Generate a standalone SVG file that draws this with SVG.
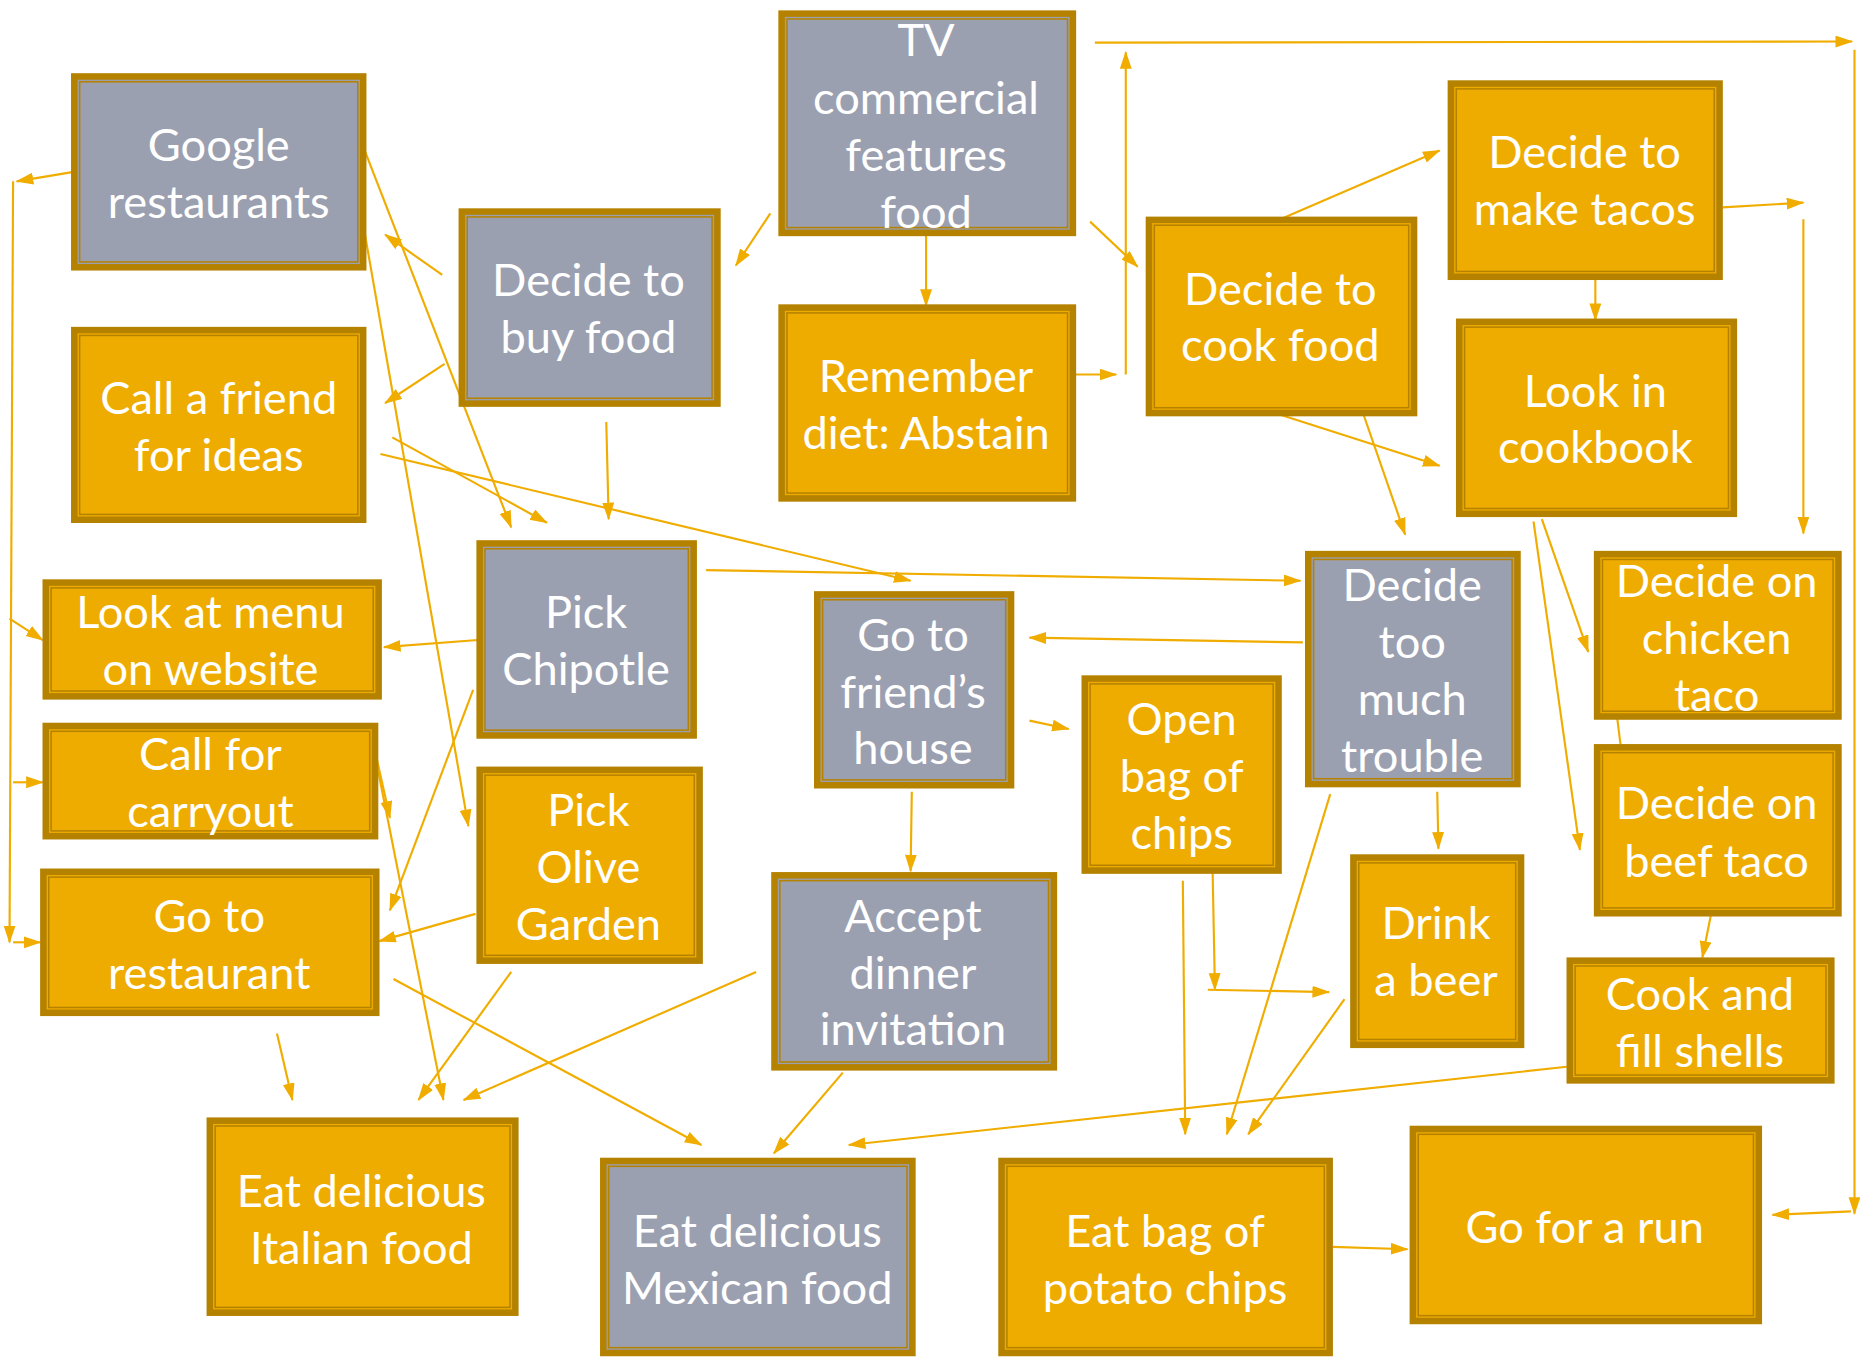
<svg xmlns="http://www.w3.org/2000/svg" width="1864" height="1369" viewBox="0 0 1864 1369">
<style>
.b{stroke:#B58200;stroke-width:5.5}
.o .b{fill:#EFAC00}
.g .b{fill:#9BA0B1}
.in{fill:none;stroke:#B58200;stroke-width:1.3}
text{font-family:"Lato","Open Sans",sans-serif;font-size:38px;fill:#FFFFFF;text-anchor:middle}
#connectors path{fill:none;stroke:#F0AD00;stroke-width:1.8;marker-end:url(#ah)}
#connectors path.n{marker-end:none}
</style>
<defs>
<marker id="ah" markerUnits="userSpaceOnUse" markerWidth="16" markerHeight="11" refX="14" refY="5" orient="auto">
<path d="M0,0 L15,5 L0,10 Z" fill="#F0AD00"/>
</marker>
</defs>
<rect width="1864" height="1369" fill="#FFFFFF"/>
<g transform="scale(1.18878 1.18528)">
<g id="connectors">
<path d="M921,36 L1558,35"/>
<path d="M1560,42 L1560,1024"/>
<path d="M1557,1022 L1491,1025"/>
<path d="M947,316 L947,44"/>
<path d="M905,316 L939,316"/>
<path d="M917,187 L957,225"/>
<path d="M648,180 L619,224"/>
<path d="M779,199 L779,258"/>
<path d="M372,232 L324,198"/>
<path d="M374,307 L324,340"/>
<path d="M62,145 L14,153"/>
<path d="M11,153 L8,795"/>
<path d="M8,522 L36,540"/>
<path d="M11,660 L36,660"/>
<path d="M11,795 L34,795"/>
<path d="M306,125 L430,445"/>
<path d="M306,192 L394,697"/>
<path d="M316,636 L328,690"/>
<path d="M318,650 L373,928"/>
<path d="M330,369 L460,441"/>
<path d="M320,383 L766,490"/>
<path d="M510,356 L512,438"/>
<path d="M594,481 L1094,490"/>
<path d="M402,540 L323,546"/>
<path d="M398,582 L328,768"/>
<path d="M400,771 L319,794"/>
<path d="M430,820 L352,928"/>
<path d="M233,872 L246,928"/>
<path d="M331,826 L590,966"/>
<path d="M636,820 L390,928"/>
<path d="M709,905 L651,973"/>
<path d="M767,668 L766,735"/>
<path d="M866,608 L899,615"/>
<path d="M1096,542 L866,538"/>
<path d="M1209,668 L1210,716"/>
<path d="M1119,670 L1032,957"/>
<path d="M995,743 L997,957"/>
<path d="M1020,733 L1022,835"/>
<path d="M1016,835 L1118,837"/>
<path d="M1131,843 L1050,957"/>
<path d="M1318,900 L714,966"/>
<path d="M1121,1052 L1184,1054"/>
<path d="M1077,185 L1211,127"/>
<path d="M1077,350 L1211,393"/>
<path d="M1145,344 L1182,451"/>
<path d="M1449,175 L1517,171"/>
<path d="M1517,185 L1517,450"/>
<path d="M1342,230 L1342,270"/>
<path d="M1297,438 L1336,550"/>
<path d="M1290,440 L1329,717"/>
<path class="n" d="M1356,570 L1372,700"/>
<path d="M1440,768 L1432,808"/>
</g>

<g id="google" class="g"><rect class="b" x="62.5" y="64.5" width="243" height="161"/><rect class="in" x="67" y="69" width="234" height="152"/><text x="184" y="136">Google</text><text x="184" y="184">restaurants</text></g>
<g id="callfriend" class="o"><rect class="b" x="62.5" y="278.5" width="243" height="160"/><rect class="in" x="67" y="283" width="234" height="151"/><text x="184" y="349">Call a friend</text><text x="184" y="397">for ideas</text></g>
<g id="buyfood" class="g"><rect class="b" x="388.5" y="178.5" width="215" height="162"/><rect class="in" x="393" y="183" width="206" height="153"/><text x="495" y="250">Decide to</text><text x="495" y="298">buy food</text></g>
<g id="tv" class="g"><rect class="b" x="657.5" y="11.5" width="245" height="185"/><rect class="in" x="662" y="16" width="236" height="176"/><text x="779" y="47">TV</text><text x="779" y="96">commercial</text><text x="779" y="144">features</text><text x="779" y="192">food</text></g>
<g id="remember" class="o"><rect class="b" x="657.5" y="259.5" width="245" height="161"/><rect class="in" x="662" y="264" width="236" height="152"/><text x="779" y="331">Remember</text><text x="779" y="379">diet: Abstain</text></g>
<g id="cookfood" class="o"><rect class="b" x="966.5" y="185.5" width="223" height="163"/><rect class="in" x="971" y="190" width="214" height="154"/><text x="1077" y="257">Decide to</text><text x="1077" y="305">cook food</text></g>
<g id="tacos" class="o"><rect class="b" x="1220.5" y="70.5" width="226" height="163"/><rect class="in" x="1225" y="75" width="217" height="154"/><text x="1333" y="142">Decide to</text><text x="1333" y="190">make tacos</text></g>
<g id="cookbook" class="o"><rect class="b" x="1227.5" y="271.5" width="231" height="162"/><rect class="in" x="1232" y="276" width="222" height="153"/><text x="1342" y="343">Look in</text><text x="1342" y="391">cookbook</text></g>
<g id="menu" class="o"><rect class="b" x="38.5" y="491.5" width="280" height="96"/><rect class="in" x="43" y="496" width="271" height="87"/><text x="177" y="530">Look at menu</text><text x="177" y="578">on website</text></g>
<g id="carryout" class="o"><rect class="b" x="38.5" y="612.5" width="277" height="93"/><rect class="in" x="43" y="617" width="268" height="84"/><text x="177" y="650">Call for</text><text x="177" y="698">carryout</text></g>
<g id="gorest" class="o"><rect class="b" x="36.5" y="735.5" width="280" height="119"/><rect class="in" x="41" y="740" width="271" height="110"/><text x="176" y="786">Go to</text><text x="176" y="834">restaurant</text></g>
<g id="chipotle" class="g"><rect class="b" x="403.5" y="458.5" width="180" height="162"/><rect class="in" x="408" y="463" width="171" height="153"/><text x="493" y="530">Pick</text><text x="493" y="578">Chipotle</text></g>
<g id="olive" class="o"><rect class="b" x="403.5" y="649.5" width="185" height="161"/><rect class="in" x="408" y="654" width="176" height="152"/><text x="495" y="697">Pick</text><text x="495" y="745">Olive</text><text x="495" y="793">Garden</text></g>
<g id="friendhouse" class="g"><rect class="b" x="687.5" y="501.5" width="163" height="161"/><rect class="in" x="692" y="506" width="154" height="152"/><text x="768" y="549">Go to</text><text x="768" y="597">friend’s</text><text x="768" y="645">house</text></g>
<g id="accept" class="g"><rect class="b" x="651.5" y="738.5" width="235" height="162"/><rect class="in" x="656" y="743" width="226" height="153"/><text x="768" y="786">Accept</text><text x="768" y="834">dinner</text><text x="768" y="882">invitation</text></g>
<g id="openbag" class="o"><rect class="b" x="912.5" y="572.5" width="163" height="162"/><rect class="in" x="917" y="577" width="154" height="153"/><text x="994" y="620">Open</text><text x="994" y="668">bag of</text><text x="994" y="716">chips</text></g>
<g id="trouble" class="g"><rect class="b" x="1100.5" y="467.5" width="176" height="194"/><rect class="in" x="1105" y="472" width="167" height="185"/><text x="1188" y="507">Decide</text><text x="1188" y="555">too</text><text x="1188" y="603">much</text><text x="1188" y="651">trouble</text></g>
<g id="beer" class="o"><rect class="b" x="1138.5" y="723.5" width="141" height="158"/><rect class="in" x="1143" y="728" width="132" height="149"/><text x="1208" y="792">Drink</text><text x="1208" y="840">a beer</text></g>
<g id="chicken" class="o"><rect class="b" x="1343.5" y="467.5" width="203" height="137"/><rect class="in" x="1348" y="472" width="194" height="128"/><text x="1444" y="504">Decide on</text><text x="1444" y="552">chicken</text><text x="1444" y="600">taco</text></g>
<g id="beef" class="o"><rect class="b" x="1343.5" y="630.5" width="203" height="140"/><rect class="in" x="1348" y="635" width="194" height="131"/><text x="1444" y="691">Decide on</text><text x="1444" y="740">beef taco</text></g>
<g id="cookfill" class="o"><rect class="b" x="1320.5" y="810.5" width="220" height="101"/><rect class="in" x="1325" y="815" width="211" height="92"/><text x="1430" y="852">Cook and</text><text x="1430" y="900">fill shells</text></g>
<g id="italian" class="o"><rect class="b" x="176.5" y="945.5" width="257" height="162"/><rect class="in" x="181" y="950" width="248" height="153"/><text x="304" y="1018">Eat delicious</text><text x="304" y="1066">Italian food</text></g>
<g id="mexican" class="g"><rect class="b" x="507.5" y="979.5" width="260" height="162"/><rect class="in" x="512" y="984" width="251" height="153"/><text x="637" y="1052">Eat delicious</text><text x="637" y="1100">Mexican food</text></g>
<g id="eatchips" class="o"><rect class="b" x="842.5" y="979.5" width="276" height="162"/><rect class="in" x="847" y="984" width="267" height="153"/><text x="980" y="1052">Eat bag of</text><text x="980" y="1100">potato chips</text></g>
<g id="run" class="o"><rect class="b" x="1188.5" y="952.5" width="291" height="162"/><rect class="in" x="1193" y="957" width="282" height="153"/><text x="1333" y="1049">Go for a run</text></g>
</g>
</svg>
